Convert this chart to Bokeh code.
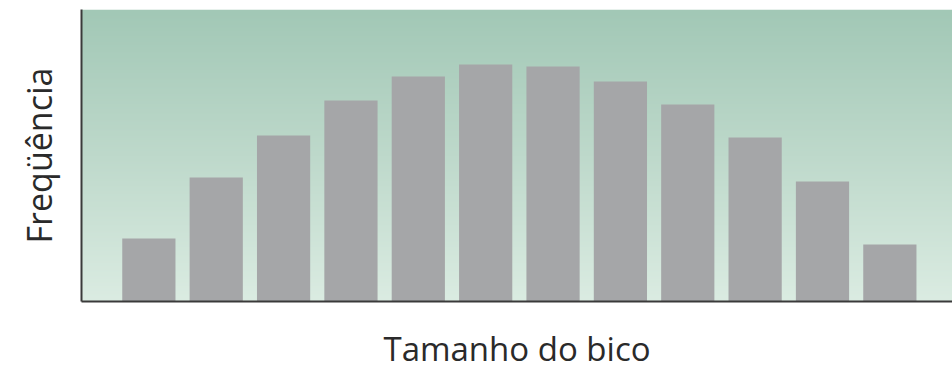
import numpy as np
from bokeh.plotting import figure
from bokeh.models import Range1d, FixedTicker
from bokeh.embed import file_html
from bokeh.resources import INLINE

# Data (bar heights, arbitrary frequency units)
classes = [1, 2, 3, 4, 5, 6, 7, 8, 9, 10, 11, 12]
frequency = [63, 124, 166, 201, 225, 237, 235, 220, 197, 164, 120, 57]
x_label = "Tamanho do bico"
y_label = "Freqüência"

Y_MAX = 292
X_MIN, X_MAX = 0.0, 12.93

p = figure(width=952, height=373, output_backend="svg", toolbar_location=None,
           x_range=Range1d(X_MIN, X_MAX), y_range=Range1d(0, Y_MAX),
           min_border_left=81, min_border_right=0, min_border_top=9, min_border_bottom=72)

# gradient background (top green -> lighter bottom)
stops_pos = np.array([0.0, 0.5, 1.0])  # bottom -> top
stops_rgb = np.array([[219, 236, 226], [190, 217, 203], [162, 200, 182]])
n = 300
t = np.linspace(0, 1, n)
img = np.zeros((n, 1), dtype=np.uint32)
view = img.view(dtype=np.uint8).reshape((n, 1, 4))
for c in range(3):
    view[:, 0, c] = np.interp(t, stops_pos, stops_rgb[:, c]).astype(np.uint8)
view[:, 0, 3] = 255
p.image_rgba(image=[img], x=X_MIN, y=0, dw=X_MAX - X_MIN, dh=Y_MAX)

p.vbar(x=classes, top=frequency, bottom=0, width=0.79, fill_color="#a5a6a8", line_color=None)

p.xgrid.visible = False
p.ygrid.visible = False
p.outline_line_color = None
p.background_fill_color = "white"
p.border_fill_color = "white"

font = "Open Sans"
for ax in (p.xaxis[0], p.yaxis[0]):
    ax.ticker = FixedTicker(ticks=[])
    ax.major_tick_line_color = None
    ax.minor_tick_line_color = None
    ax.major_label_text_font_size = "0px"
    ax.axis_line_color = "#3a3a3a"
    ax.axis_line_width = 2
    ax.axis_label_text_font = font
    ax.axis_label_text_font_style = "normal"
    ax.axis_label_text_color = "#2a2a2a"

p.xaxis[0].axis_label = x_label
p.yaxis[0].axis_label = y_label
p.xaxis[0].axis_label_text_font_size = "33px"
p.yaxis[0].axis_label_text_font_size = "34px"
p.xaxis[0].axis_label_standoff = 24
p.yaxis[0].axis_label_standoff = 20

open("out.html", "w").write(file_html(p, INLINE))
